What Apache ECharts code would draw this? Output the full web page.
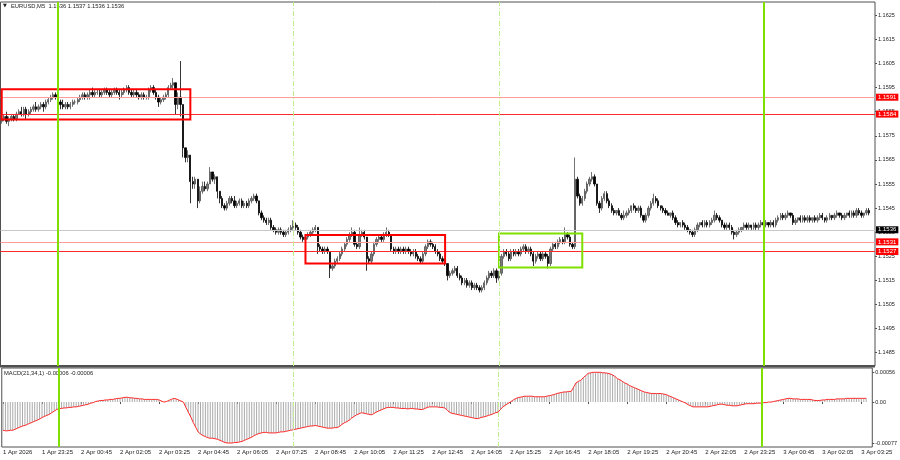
<!DOCTYPE html>
<html>
<head>
<meta charset="utf-8">
<script src="https://cdn.jsdelivr.net/npm/echarts@6/dist/echarts.min.js"></script>
<style>html,body{margin:0;padding:0;background:#fff}#c{width:900px;height:460px}</style>
</head>
<body>
<div id="c"></div>
<script>
// Close prices in pips above 1.1500, one per M5 bar starting 1 Apr 22:05
const firstOpen = 81;
const closes = [
82,83,81,82,83,82,84,85,84,86,
84,85,86,87,86,87,88,87,89,90,
91,92,91,89,88,87,88,87,88,89,
89,90,91,92,91,92,93,92,93,93,
92,93,94,93,92,93,94,93,92,93,
94,95,93,92,93,92,91,92,91,91,
94,95,93,91,89,90,91,92,95,96,
97,88,91,88,70,66,67,56,55,57,
48,52,54,53,55,60,57,58,52,49,
46,45,47,49,48,46,47,48,46,47,
46,48,49,50,48,43,41,40,39,40,
37,36,35,36,35,34,35,36,37,38,
37,35,33,32,33,34,35,36,37,29,
28,27,28,27,20,21,23,24,26,28,
30,32,34,35,30,29,34,35,33,24,
23,26,30,32,33,32,34,35,34,28,
27,28,27,28,27,28,27,26,27,25,
24,23,26,29,31,30,29,27,26,24,
23,22,17,18,19,20,17,16,14,15,
13,14,12,13,12,11,12,14,16,18,
17,19,16,18,25,27,26,24,27,26,
27,26,28,29,27,28,26,23,25,26,
24,26,25,22,28,30,29,31,32,31,
34,33,30,29,57,50,47,49,52,55,
57,58,55,47,45,49,51,48,46,44,
43,44,42,41,42,43,44,46,45,44,
45,42,40,42,45,47,49,48,46,45,
44,43,42,43,41,39,38,39,38,37,
36,35,34,36,38,39,38,39,38,39,
40,42,41,40,38,37,38,37,35,34,
35,36,37,38,37,38,37,38,37,38,
39,38,39,38,39,38,40,41,42,41,
42,43,42,39,40,41,40,41,40,41,
40,41,40,41,42,41,40,41,42,41,
42,43,42,41,42,43,42,43,42,44,
43,42,43,44,43
];
// Upper wick length above the body (pips)
const hiX = [
1,1,2,1,1,1,1,1,2,1,
1,1,1,1,2,1,1,1,1,1,
1,1,1,1,1,2,1,1,1,1,
1,1,1,1,1,1,1,2,1,1,
1,1,1,1,1,1,1,1,1,1,
1,1,1,1,1,1,1,1,1,1,
1,1,1,1,1,1,1,1,1,1,
2,0,2,15,0,0,2,0,2,1,
0,2,2,2,1,2,0,1,0,0,
1,1,1,1,1,2,1,1,1,1,
1,1,1,1,1,0,1,1,1,1,
1,1,1,1,1,1,1,1,1,2,
1,1,1,1,1,1,1,1,1,0,
1,1,1,1,0,1,1,1,1,1,
1,1,1,2,1,1,3,1,1,0,
1,1,1,1,1,1,1,2,1,0,
1,1,1,1,1,1,1,1,1,1,
1,1,1,1,1,1,1,1,1,1,
1,1,0,1,1,1,1,1,1,1,
1,1,1,1,1,1,1,1,1,1,
1,1,1,1,1,1,1,1,1,1,
1,1,1,1,1,1,1,1,1,1,
1,1,1,1,1,1,1,1,1,1,
3,1,1,1,9,1,1,1,1,1,
1,2,1,0,1,1,1,1,1,1,
1,0,1,1,2,1,1,0,1,1,
1,1,0,1,1,1,2,1,1,0,
1,1,1,0,1,1,1,0,1,1,
1,0,1,1,1,0,1,1,1,1,
1,2,1,1,0,1,1,1,1,1,
1,1,0,1,1,1,0,1,1,1,
1,1,1,0,1,1,1,1,1,1,
1,1,0,1,1,0,1,1,1,1,
1,0,1,1,1,1,0,1,1,0,
1,1,0,1,1,0,1,1,1,1,
1,1,0,1,1
];
// Lower wick length below the body (pips)
const loX = [
1,1,1,2,1,1,1,0,1,1,
2,1,1,1,1,1,1,2,1,1,
1,1,1,1,2,1,1,1,1,1,
1,1,1,1,1,1,2,1,1,1,
1,1,1,1,1,1,1,1,2,1,
1,1,1,1,1,1,1,1,1,1,
1,1,1,1,2,1,1,1,1,1,
2,4,2,5,4,2,2,9,2,2,
3,1,1,1,1,0,1,2,3,2,
1,1,1,1,1,1,1,1,1,1,
1,1,1,1,1,1,1,1,1,1,
1,1,1,1,1,1,1,1,1,1,
1,1,1,1,1,1,1,1,1,3,
1,1,1,1,4,1,1,1,1,1,
1,1,1,1,1,1,1,1,1,5,
1,1,1,1,1,1,1,1,1,1,
1,1,1,1,1,1,1,1,1,1,
1,1,1,1,1,1,1,1,1,1,
1,1,2,1,1,1,1,1,1,1,
1,1,1,1,1,1,1,1,1,1,
1,1,2,1,1,1,1,1,1,1,
1,1,1,1,1,1,1,2,1,1,
1,1,1,2,1,1,1,1,1,1,
1,1,1,1,1,1,1,1,1,1,
1,1,1,1,2,1,1,1,1,1,
1,1,0,1,1,1,1,1,1,1,
1,1,1,1,1,1,1,1,1,1,
1,1,0,1,1,1,1,1,1,1,
1,1,1,1,1,1,1,1,1,1,
1,1,1,1,1,1,1,1,1,2,
1,1,1,1,1,1,1,1,1,1,
1,1,1,1,1,1,1,1,1,1,
1,1,1,1,1,1,1,1,1,1,
1,1,1,1,1,1,1,1,1,1,
1,1,1,1,1,1,1,1,1,1,
1,1,1,1,1
];
// MACD(21,34,1) main values, in units of 0.00001
const macd = [
-53,-54,-54,-53,-53,-51,-49,-47,-45,-44,
-42,-40,-38,-36,-34,-32,-29,-27,-25,-23,
-20,-17,-14,-12,-12,-11,-11,-10,-10,-9,
-9,-8,-7,-6,-5,-4,-2,-1,1,2,
3,3,4,4,5,5,6,7,7,8,
9,9,8,8,7,7,6,6,5,5,
5,5,5,5,4,2,0,1,3,5,
7,6,4,2,0,-10,-19,-28,-38,-47,
-56,-60,-63,-65,-67,-68,-68,-69,-70,-72,
-74,-76,-77,-77,-77,-76,-76,-75,-74,-72,
-70,-68,-66,-63,-61,-59,-58,-57,-57,-58,
-58,-58,-58,-57,-56,-56,-55,-54,-53,-52,
-51,-50,-49,-48,-47,-46,-45,-45,-44,-45,
-46,-47,-48,-49,-49,-49,-48,-48,-46,-42,
-39,-37,-34,-30,-27,-24,-22,-20,-21,-22,
-23,-24,-22,-19,-17,-15,-13,-11,-10,-10,
-10,-11,-11,-12,-12,-12,-13,-12,-12,-13,
-13,-14,-14,-12,-10,-9,-9,-9,-9,-10,
-10,-11,-14,-19,-21,-22,-23,-24,-25,-26,
-27,-28,-29,-30,-31,-31,-29,-28,-27,-25,
-24,-22,-20,-19,-14,-9,-6,-3,0,3,
6,8,9,10,11,11,11,11,10,10,
10,10,10,11,12,13,14,16,17,18,
19,19,20,20,28,36,39,41,46,50,
54,55,56,56,56,56,55,55,54,53,
51,48,44,42,39,36,34,31,29,27,
25,23,21,19,18,17,16,16,16,16,
16,15,14,12,10,8,6,4,2,0,
-2,-5,-7,-9,-9,-9,-9,-9,-9,-9,
-8,-7,-6,-5,-4,-4,-5,-6,-6,-7,
-7,-7,-6,-5,-4,-3,-3,-3,-3,-2,
-2,-2,-1,-1,0,0,1,2,3,4,
5,6,7,7,6,6,6,5,5,5,
5,5,4,3,3,3,4,4,5,5,
5,5,6,6,6,6,7,7,7,7,
7,7,7,7,7
];
const timeLabels = ["1 Apr 2026","1 Apr 23:25","2 Apr 00:45","2 Apr 02:05","2 Apr 03:25","2 Apr 04:45","2 Apr 06:05","2 Apr 07:25","2 Apr 08:45","2 Apr 10:05","2 Apr 11:25","2 Apr 12:45","2 Apr 14:05","2 Apr 15:25","2 Apr 16:45","2 Apr 18:05","2 Apr 19:25","2 Apr 20:45","2 Apr 22:05","2 Apr 23:25","3 Apr 00:45","3 Apr 02:05","3 Apr 03:25"];
const priceTicks = [1.1485,1.1495,1.1505,1.1515,1.1525,1.1535,1.1545,1.1555,1.1565,1.1575,1.1585,1.1595,1.1605,1.1615,1.1625];
const macdTicks = [0.00056, 0, -0.00077];
const levelsStrong = [1.1584, 1.1527];
const levelsLight = [1.1591, 1.1531];
const bidLevel = 1.1536;
const sessionSolid = [23, 311];   // bar indices of day starts
const sessionDashed = [119, 203]; // bar indices of session opens
const redBoxes = [[0, 1.15943, 77, 1.15818], [124, 1.15338, 181, 1.15220]];
const greenBoxes = [[203, 1.15345, 237, 1.15204]];

const FONT = 'Liberation Sans';
const N = closes.length;
const cats = [];
for (let i = 0; i < N + 2; i++) {
  const t = 22 * 60 + 5 + 5 * i;
  const d = 1 + Math.floor(t / 1440), m = t % 1440;
  cats.push(d + ' Apr ' + String(Math.floor(m / 60)).padStart(2, '0') + ':' + String(m % 60).padStart(2, '0'));
}
const px = v => +(1.15 + v / 10000).toFixed(5);
const candles = closes.map((c, i) => {
  const o = i === 0 ? firstOpen : closes[i - 1];
  return [px(o), px(c), px(Math.min(o, c) - loX[i]), px(Math.max(o, c) + hiX[i])];
});
const macdData = macd.map(v => +(v * 1e-5).toFixed(6));

const boxLabel = (bg) => ({
  show: true, position: 'end', distance: 1, backgroundColor: bg, color: '#fff',
  fontFamily: FONT, fontSize: 6, padding: [1, 2, 0, 2], formatter: p => (+p.value).toFixed(4)
});
const hLines = [
  { yAxis: bidLevel, lineStyle: { color: '#c8c8c8', width: 1, type: 'solid' }, label: boxLabel('#000000') },
  ...levelsLight.map(v => ({ yAxis: v, lineStyle: { color: '#ff9c9c', width: 1, type: 'solid' }, label: boxLabel('#ff0000') })),
  ...levelsStrong.map(v => ({ yAxis: v, lineStyle: { color: '#ff2a2a', width: 1, type: 'solid' }, label: boxLabel('#ff0000') }))
];
const vLines = [
  ...sessionSolid.map(x => ({ xAxis: x, lineStyle: { color: '#7fe000', width: 2, type: 'solid' }, label: { show: false } })),
  ...sessionDashed.map(x => ({ xAxis: x, lineStyle: { color: '#bff08a', width: 1, type: [5, 2, 1, 2] }, label: { show: false } }))
];
const boxes = [
  ...redBoxes.map(b => [{ coord: [b[0], b[1]], itemStyle: { color: 'rgba(0,0,0,0)', borderColor: '#ff0000', borderWidth: 2 } }, { coord: [b[2], b[3]] }]),
  ...greenBoxes.map(b => [{ coord: [b[0], b[1]], itemStyle: { color: 'rgba(0,0,0,0)', borderColor: '#7fe000', borderWidth: 2 } }, { coord: [b[2], b[3]] }])
];

const chart = echarts.init(document.getElementById('c'), null, { renderer: 'canvas' });
chart.setOption({
  animation: false,
  backgroundColor: '#fff',
  grid: [
    { left: 0.5, right: 25, top: 2, height: 364, show: true, borderColor: '#505050', borderWidth: 1 },
    { left: 0.5, right: 25, top: 368, bottom: 13, show: true, borderColor: '#505050', borderWidth: 1 }
  ],
  xAxis: [
    { type: 'category', gridIndex: 0, data: cats, boundaryGap: true, axisLabel: { show: false }, axisTick: { show: false }, axisLine: { show: false }, splitLine: { show: false } },
    { type: 'category', gridIndex: 1, data: cats, boundaryGap: true, axisLine: { show: false },
      axisTick: { show: true, interval: 15, length: 2, alignWithLabel: true, lineStyle: { color: '#505050' } },
      axisLabel: { interval: 15, align: 'left', margin: 2, fontSize: 6, fontFamily: FONT, color: '#222', formatter: (v, i) => timeLabels[i / 16] || '' } }
  ],
  yAxis: [
    { type: 'value', gridIndex: 0, position: 'right', min: 1.14795, max: 1.16305, splitLine: { show: false }, axisLine: { show: false },
      axisTick: { show: true, length: 2, customValues: priceTicks, lineStyle: { color: '#505050' } },
      axisLabel: { customValues: priceTicks, margin: 3, fontSize: 5.5, fontFamily: FONT, color: '#222', formatter: v => v.toFixed(4) } },
    { type: 'value', gridIndex: 1, position: 'right', min: -0.000845, max: 0.000641, splitLine: { show: false }, axisLine: { show: false },
      axisTick: { show: true, length: 2, customValues: macdTicks, lineStyle: { color: '#505050' } },
      axisLabel: { customValues: macdTicks, margin: 3, fontSize: 5.5, fontFamily: FONT, color: '#222', formatter: v => v === 0 ? '0.00' : v.toFixed(5) } }
  ],
  series: [
    { type: 'line', xAxisIndex: 0, yAxisIndex: 0, data: [], silent: true,
      markLine: { silent: true, symbol: 'none', precision: 5, data: hLines } },
    { type: 'candlestick', xAxisIndex: 0, yAxisIndex: 0, data: candles, barWidth: 1.8,
      itemStyle: { color: '#7a7a7a', color0: '#000', borderColor: '#505050', borderColor0: '#000', borderWidth: 0.8 },
      markLine: { silent: true, symbol: 'none', precision: 5, z: 10, data: vLines },
      markArea: { silent: true, z: 10, data: boxes } },
    { type: 'bar', xAxisIndex: 1, yAxisIndex: 1, data: macdData, barWidth: 1, itemStyle: { color: '#ababab' },
      markLine: { silent: true, symbol: 'none', precision: 5, data: vLines } },
    { type: 'line', xAxisIndex: 1, yAxisIndex: 1, data: macdData, symbol: 'none', lineStyle: { color: '#ff2a2a', width: 1 } }
  ],
  graphic: [
    { type: 'rect', shape: { x: 0, y: 365, width: 875, height: 2.5 }, style: { fill: '#505050' }, silent: true },
    { type: 'text', x: 3, y: 6, style: { text: '▼', fontSize: 5, fontFamily: 'DejaVu Sans', fill: '#222', verticalAlign: 'middle' } },
    { type: 'text', x: 11, y: 6.5, style: { text: 'EURUSD,M5', fontSize: 5.8, fontFamily: FONT, fill: '#222', verticalAlign: 'middle' } },
    { type: 'text', x: 48.5, y: 6.5, style: { text: '1.1536 1.1537 1.1536 1.1536', fontSize: 5.8, fontFamily: FONT, fill: '#222', verticalAlign: 'middle' } },
    { type: 'text', x: 4, y: 373.5, style: { text: 'MACD(21,34,1) -0.00006 -0.00006', fontSize: 5.8, fontFamily: FONT, fill: '#222', verticalAlign: 'middle' } }
  ]
});
</script>
</body>
</html>
